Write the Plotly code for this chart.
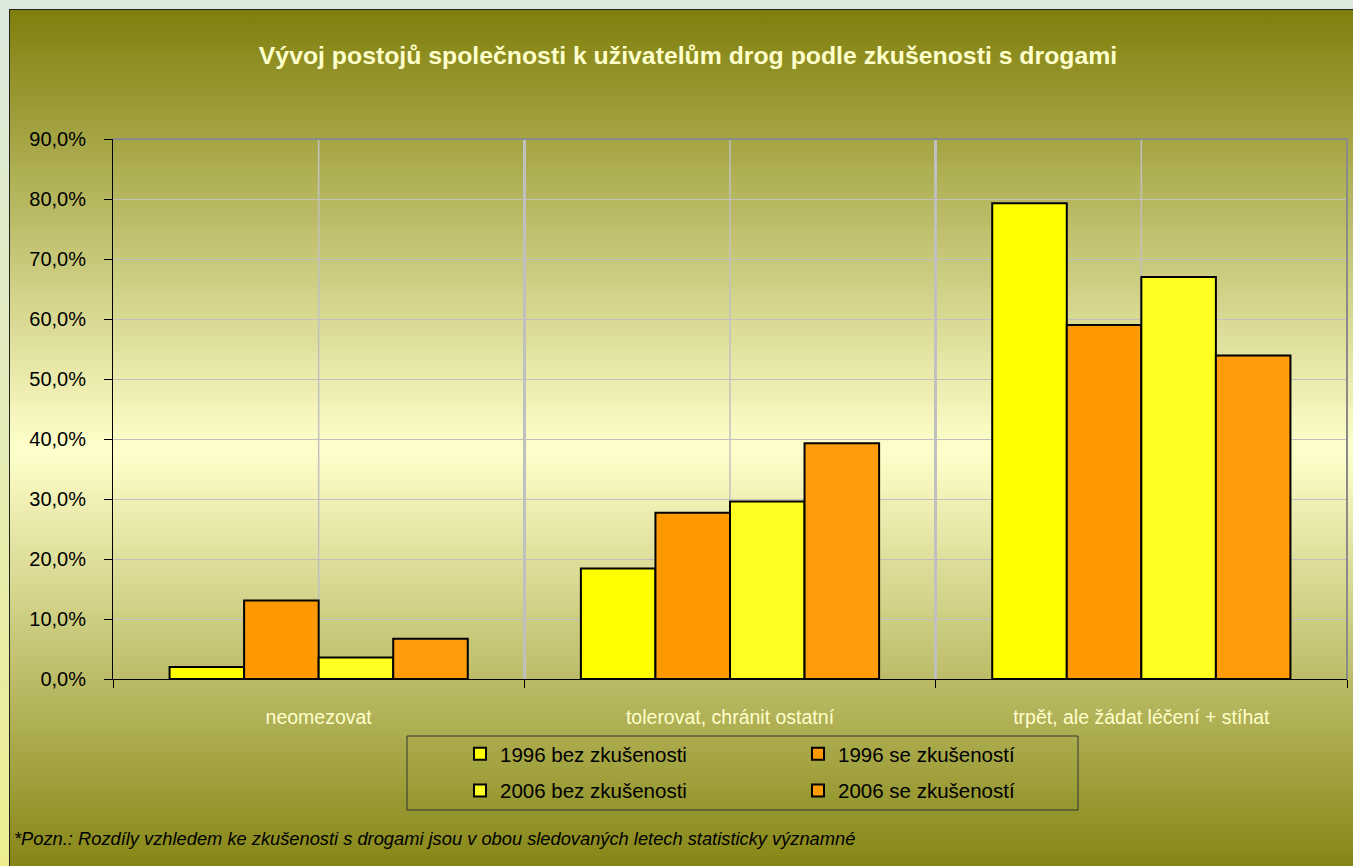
import plotly.graph_objects as go

# categories and values (percent)
categories = ["neomezovat", "tolerovat, chránit ostatní", "trpět, ale žádat léčení + stíhat"]
bez_1996 = [2.0, 18.4, 79.3]
se_1996 = [13.1, 27.7, 59.0]
bez_2006 = [3.6, 29.6, 67.0]
se_2006 = [6.7, 39.3, 53.9]

series_names = ["1996 bez zkušenosti", "1996 se zkušeností", "2006 bez zkušenosti", "2006 se zkušeností"]

title_text = "Vývoj postojů společnosti k uživatelům drog podle zkušenosti s drogami"
note_text = ("*Pozn.: Rozdíly vzhledem ke zkušenosti s drogami jsou v obou "
             "sledovaných letech statisticky významné")

# ── figure geometry ─────────────────────────────────────────────
W, H = 1353, 866
L, R, T, B = 113, 6, 139, 187
PW, PH = W - L - R, H - T - B

FONT = "Liberation Sans, Arial, sans-serif"

# background: light outer strip + olive/cream gradient frame (excel style)
bg_svg = (
    "<svg xmlns='http://www.w3.org/2000/svg' width='1353' height='866'>"
    "<defs>"
    "<linearGradient id='o' x1='0' y1='0' x2='0' y2='1'>"
    "<stop offset='0' stop-color='#dbe9de'/><stop offset='1' stop-color='#eeee90'/>"
    "</linearGradient>"
    "<linearGradient id='g' x1='0' y1='0' x2='0' y2='1'>"
    "<stop offset='0' stop-color='#7f7f0c'/><stop offset='0.5' stop-color='#ffffcc'/>"
    "<stop offset='1' stop-color='#7f7f0c'/>"
    "</linearGradient>"
    "</defs>"
    "<rect width='1353' height='866' fill='url(#o)'/>"
    "<rect x='9.5' y='9.5' width='1400' height='880' fill='url(#g)' stroke='#222222'/>"
    "</svg>"
)
bg_uri = "data:image/svg+xml;charset=utf-8," + bg_svg.replace("#", "%23").replace("<", "%3C").replace(">", "%3E")

fig = go.Figure()

styles = [
    (bez_1996, "#ffff00", "legend"),
    (se_1996, "#ff9900", "legend2"),
    (bez_2006, "#ffff22", "legend"),
    (se_2006, "#ff9c0a", "legend2"),
]
for i, (vals, color, leg) in enumerate(styles):
    fig.add_trace(go.Bar(
        x=categories,
        y=vals,
        name=series_names[i],
        marker=dict(color=color, line=dict(color="#000000", width=2)),
        legend=leg,
        legendgroup=series_names[i],
        hovertemplate="%{x}<br>%{y:.1f}%<extra>" + series_names[i] + "</extra>",
    ))

legend_common = dict(
    bgcolor="rgba(0,0,0,0)",
    font=dict(family=FONT, size=20.5, color="#000000"),
    traceorder="grouped",
    tracegroupgap=7,
    orientation="v",
    xanchor="left",
    yanchor="top",
    itemclick=False,
)

# thin grey lines through the middle of each category (excel's vertical gridlines)
shapes = [
    dict(type="line", xref="x", yref="y domain", x0=c, x1=c, y0=0, y1=1,
         layer="below", line=dict(color="#c0c0c0", width=1.5))
    for c in categories
]
shapes += [
    # plot area border (top + right)
    dict(type="line", xref="x domain", yref="y domain", x0=0, x1=1, y0=1, y1=1,
         line=dict(color="#8a8a8a", width=2)),
    dict(type="line", xref="x domain", yref="y domain", x0=1, x1=1, y0=0, y1=1,
         line=dict(color="#8a8a8a", width=2)),
    # legend frame
    dict(type="rect", xref="paper", yref="paper",
         x0=(407 - L) / PW, x1=(1078 - L) / PW, y0=(679 - 736) / PH, y1=(679 - 810) / PH,
         line=dict(color="#333333", width=1), fillcolor="rgba(0,0,0,0)"),
]

fig.update_layout(
    width=W,
    height=H,
    margin=dict(l=L, r=R, t=T, b=B),
    paper_bgcolor="rgba(0,0,0,0)",
    plot_bgcolor="rgba(0,0,0,0)",
    separators=", ",
    barmode="group",
    bargap=0.275,
    bargroupgap=0,
    title=dict(
        text="<b>" + title_text + "</b>",
        font=dict(family=FONT, size=24.8, color="#ffffcc"),
        x=688 / W, xref="container", xanchor="center",
        y=1 - 55 / H, yref="container", yanchor="middle",
    ),
    xaxis=dict(
        type="category",
        tickson="boundaries",
        showgrid=True, gridcolor="#c0c0c0", gridwidth=3,
        showline=True, linecolor="#000000", linewidth=1,
        ticks="outside", ticklen=8, tickcolor="#000000", tickwidth=1,
        tickfont=dict(family=FONT, size=19.5, color="#ffffcc"),
        ticklabelstandoff=21,
    ),
    yaxis=dict(
        range=[0, 90], dtick=10, tickformat=".1f", ticksuffix="%",
        showgrid=True, gridcolor="#c0c0c0", gridwidth=1,
        showline=True, linecolor="#000000", linewidth=1,
        ticks="outside", ticklen=8, tickcolor="#000000",
        tickfont=dict(family=FONT, size=20, color="#000000"),
        ticklabelstandoff=14,
        zeroline=False,
    ),
    legend=dict(legend_common, x=(460 - L) / PW, y=(679 - 734) / PH),
    legend2=dict(legend_common, x=(798 - L) / PW, y=(679 - 734) / PH),
    showlegend=True,
    images=[dict(
        source=bg_uri, xref="paper", yref="paper",
        x=-L / PW, y=1 + T / PH, sizex=W / PW, sizey=H / PH,
        xanchor="left", yanchor="top", sizing="stretch", layer="below",
    )],
    shapes=shapes,
    annotations=[dict(
        text="<i>" + note_text + "</i>",
        xref="paper", yref="paper", x=(12 - L) / PW, y=(679 - 838) / PH,
        xanchor="left", yanchor="middle", showarrow=False,
        font=dict(family=FONT, size=18.3, color="#000000"),
    )],
)

# the page body has an 8px default margin; drop it so the chart sits at 0,0
fig.write_html("out.html", config={"displayModeBar": False},
               post_script="document.body.style.margin='0';")
